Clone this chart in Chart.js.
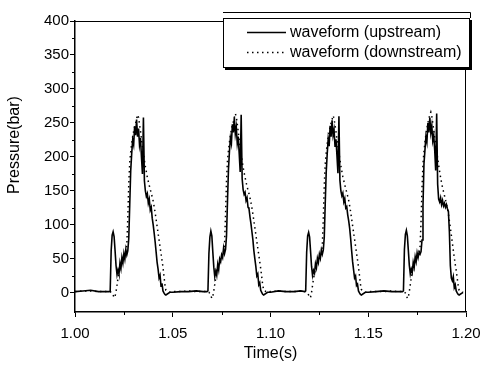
<!DOCTYPE html>
<html>
<head>
<meta charset="utf-8">
<title>Pressure waveform</title>
<script src="https://cdn.jsdelivr.net/npm/chart.js@4.4.1/dist/chart.umd.min.js"></script>
<style>
  body { margin: 0; background: #fff; }
  #wrap { width: 482px; height: 368px; }
</style>
</head>
<body>
<div id="wrap"><canvas id="chart" width="482" height="368"></canvas></div>
<script>
"use strict";

// start time of each injection cycle (s)
const cycleStarts = [1.00, 1.05, 1.10, 1.15];

// sample times inside a cycle, counted from its start (s)
const offsets = [
  0, 0.004, 0.008, 0.012, 0.0155, 0.0175,
  0.018, 0.0185, 0.019, 0.0195, 0.020, 0.0205, 0.021, 0.0215, 0.022, 0.0225,
  0.023, 0.0235, 0.024, 0.0245, 0.025, 0.0255, 0.026, 0.0265, 0.027, 0.0275,
  0.028, 0.0285, 0.029, 0.0295, 0.030, 0.0305, 0.031, 0.0315, 0.032, 0.0325,
  0.033, 0.0335, 0.034, 0.0345, 0.035, 0.0355, 0.036, 0.0365, 0.037, 0.0375,
  0.038, 0.0385, 0.039, 0.0395, 0.040, 0.0405, 0.041, 0.0415, 0.042, 0.0425,
  0.043, 0.0435, 0.044, 0.0445, 0.045, 0.0455, 0.046, 0.0465,
  0.0485
];

// upstream pressure (bar), one array per cycle
const upstream1 = [
  2, 3, 4, 2, 2, 2,
  3, 62, 85, 90, 83, 62, 40, 27, 34, 28,
  44, 36, 52, 44, 58, 50, 64, 56, 62, 80,
  130, 180, 205, 225, 218, 245, 232, 255, 230, 242,
  218, 228, 200, 175, 258, 165, 150, 142, 146, 132,
  138, 122, 126, 110, 100, 88, 75, 60, 45, 35,
  22, 26, 10, 14, 3, 0, -2, -3,
  1
];
const upstream2 = [
  1, 2, 2, 3, 2, 2,
  3, 58, 82, 91, 84, 60, 38, 24, 32, 26,
  42, 34, 50, 46, 56, 52, 66, 58, 64, 84,
  135, 182, 208, 228, 220, 248, 236, 258, 234, 244,
  220, 230, 205, 178, 262, 168, 152, 145, 148, 136,
  140, 126, 124, 112, 102, 90, 78, 62, 50, 39,
  25, 28, 12, 15, 4, 1, -2, -3,
  1
];
const upstream3 = [
  1, 3, 2, 2, 3, 2,
  3, 60, 84, 89, 82, 61, 39, 26, 33, 29,
  43, 37, 51, 45, 57, 51, 63, 57, 63, 82,
  132, 178, 204, 226, 216, 246, 230, 254, 232, 240,
  216, 226, 202, 176, 260, 166, 150, 143, 147, 134,
  139, 125, 127, 115, 106, 95, 80, 62, 46, 34,
  22, 25, 11, 13, 3, 0, -2, -3,
  1
];
const upstream4 = [
  1, 2, 3, 2, 2, 2,
  3, 64, 86, 92, 84, 63, 41, 28, 35, 30,
  45, 38, 53, 46, 59, 52, 60, 57, 61, 78,
  128, 190, 210, 230, 222, 250, 236, 258, 236, 246,
  224, 232, 210, 180, 264, 160, 138, 134, 140, 130,
  136, 128, 132, 126, 130, 124, 120, 90, 40, 22,
  18, 24, 8, 12, 3, 0, -2, -3,
  1
];

// downstream pressure (bar), one array per cycle
const downstream1 = [
  2, 3, 3, 2, 2, 2,
  2, 1, 0, -3, -7, -5, 2, 12, 22, 30,
  36, 41, 45, 49, 52, 55, 58, 70, 110, 160,
  192, 208, 220, 230, 238, 245, 250, 256, 262, 258,
  248, 238, 226, 215, 205, 195, 186, 178, 170, 164,
  158, 152, 147, 141, 135, 127, 118, 108, 98, 88,
  78, 68, 58, 48, 38, 25, 12, 4,
  1
];
const downstream2 = [
  2, 2, 3, 2, 2, 2,
  2, 1, -1, -4, -8, -5, 3, 13, 22, 31,
  37, 42, 46, 50, 53, 56, 60, 72, 115, 165,
  195, 210, 222, 232, 240, 247, 252, 258, 264, 259,
  249, 237, 225, 214, 204, 194, 185, 177, 170, 163,
  157, 151, 146, 140, 133, 125, 116, 106, 96, 86,
  76, 66, 56, 46, 36, 24, 12, 4,
  1
];
const downstream3 = [
  2, 3, 2, 2, 3, 2,
  2, 1, 0, -3, -7, -6, 1, 11, 21, 29,
  35, 40, 44, 48, 51, 54, 58, 69, 108, 158,
  190, 206, 219, 229, 237, 244, 250, 255, 261, 257,
  247, 237, 226, 216, 206, 196, 187, 179, 171, 165,
  159, 153, 148, 142, 136, 128, 119, 109, 99, 89,
  79, 69, 59, 49, 38, 26, 13, 5,
  1
];
const downstream4 = [
  2, 2, 2, 3, 2, 2,
  2, 1, 0, -3, -8, -6, 2, 12, 23, 31,
  37, 42, 46, 50, 53, 56, 59, 68, 105, 155,
  190, 208, 222, 233, 242, 250, 256, 262, 266, 260,
  250, 240, 228, 218, 208, 198, 188, 179, 170, 162,
  155, 149, 143, 137, 131, 124, 116, 106, 96, 85,
  74, 63, 52, 42, 33, 22, 11, 4,
  1
];

const xTicks = [1.00, 1.05, 1.10, 1.15, 1.20];
const xMinorTicks = [1.025, 1.075, 1.125, 1.175];
const yTicks = [0, 50, 100, 150, 200, 250, 300, 350, 400];
const yMinorTicks = [25, 75, 125, 175, 225, 275, 325, 375];

const seriesNames = ["waveform (upstream)", "waveform (downstream)"];

const FONT = "'Liberation Sans', Arial, sans-serif";

const toPoints = cycles =>
  cycles.flatMap((vals, c) => vals.map((v, i) => ({ x: cycleStarts[c] + offsets[i], y: v })));

const upstreamPts = toPoints([upstream1, upstream2, upstream3, upstream4]);
const downstreamPts = toPoints([downstream1, downstream2, downstream3, downstream4]);

// keep the plot box fixed: axes do not ask for extra room for edge labels
const noEdgePadding = s => {
  s.paddingLeft = 0;
  s.paddingRight = 0;
  s.paddingTop = 0;
  s.paddingBottom = 0;
};

// frame, minor ticks, axis titles and the boxed legend
const extras = {
  id: "extras",
  afterDatasetsDraw(chart) {
    const { ctx, chartArea: a, scales: { x, y } } = chart;
    ctx.save();
    ctx.strokeStyle = "#000";
    ctx.lineWidth = 1;
    ctx.beginPath();
    ctx.moveTo(a.left, a.top + 0.5);
    ctx.lineTo(a.right, a.top + 0.5);
    ctx.moveTo(a.right - 0.5, a.top);
    ctx.lineTo(a.right - 0.5, a.bottom);
    yMinorTicks.forEach(v => {
      const py = Math.round(y.getPixelForValue(v)) + 0.5;
      ctx.moveTo(a.left - 3, py);
      ctx.lineTo(a.left, py);
    });
    xMinorTicks.forEach(v => {
      const px = Math.round(x.getPixelForValue(v)) + 0.5;
      ctx.moveTo(px, a.bottom);
      ctx.lineTo(px, a.bottom + 3);
    });
    ctx.stroke();
    ctx.restore();
  },
  afterDraw(chart) {
    const { ctx, chartArea: a } = chart;
    ctx.save();
    ctx.fillStyle = "#000";
    ctx.font = "16px " + FONT;
    ctx.textAlign = "center";
    ctx.textBaseline = "middle";
    ctx.fillText("Time(s)", (a.left + a.right) / 2, 354);
    ctx.translate(15, 145);
    ctx.rotate(-Math.PI / 2);
    ctx.fillText("Pressure(bar)", 0, 0);
    ctx.restore();

    // legend box with its shadow
    ctx.save();
    ctx.fillStyle = "#fff";
    ctx.fillRect(223, 18, 247, 50);
    ctx.strokeStyle = "#000";
    ctx.lineWidth = 1;
    ctx.strokeRect(223.5, 18.5, 246, 49);
    ctx.beginPath();
    ctx.moveTo(223, 12.5);
    ctx.lineTo(470.5, 12.5);
    ctx.lineTo(470.5, 18);
    ctx.stroke();
    ctx.fillStyle = "#000";
    ctx.fillRect(225, 68, 247, 2);
    ctx.fillRect(470, 20, 2, 50);

    const ds = chart.data.datasets;
    [32, 52].forEach((ly, i) => {
      ctx.beginPath();
      ctx.lineWidth = ds[i].borderWidth;
      ctx.setLineDash(ds[i].borderDash || []);
      ctx.moveTo(247, ly + 0.5);
      ctx.lineTo(286, ly + 0.5);
      ctx.stroke();
      ctx.setLineDash([]);
      ctx.font = "16px " + FONT;
      ctx.textAlign = "left";
      ctx.textBaseline = "middle";
      ctx.fillText(ds[i].label, 290, ly + 1);
    });
    ctx.restore();
  }
};

new Chart(document.getElementById("chart"), {
  type: "line",
  data: {
    datasets: [
      {
        label: seriesNames[0],
        data: upstreamPts,
        borderColor: "#000",
        borderWidth: 1.6,
        pointRadius: 0,
        tension: 0
      },
      {
        label: seriesNames[1],
        data: downstreamPts,
        borderColor: "#000",
        borderWidth: 1.5,
        borderDash: [1.5, 3.5],
        pointRadius: 0,
        tension: 0
      }
    ]
  },
  options: {
    responsive: false,
    animation: false,
    layout: { padding: { left: 0, top: 21, right: 16, bottom: 0 } },
    plugins: {
      legend: { display: false },
      tooltip: { enabled: false }
    },
    scales: {
      x: {
        type: "linear",
        min: 1.0,
        max: 1.2,
        afterFit: s => { s.height = 56; noEdgePadding(s); },
        afterBuildTicks: s => { s.ticks = xTicks.map(v => ({ value: v })); },
        grid: { drawOnChartArea: false, drawTicks: true, tickLength: 5, color: "#000", lineWidth: 1 },
        border: { display: true, color: "#000", width: 1.5 },
        ticks: {
          color: "#000",
          font: { family: FONT, size: 15 },
          padding: 8,
          maxRotation: 0,
          callback: v => Number(v).toFixed(2)
        }
      },
      y: {
        min: -28,
        max: 400,
        afterFit: s => { s.width = 75; noEdgePadding(s); },
        afterBuildTicks: s => { s.ticks = yTicks.map(v => ({ value: v })); },
        grid: { drawOnChartArea: false, drawTicks: true, tickLength: 5, color: "#000", lineWidth: 1 },
        border: { display: true, color: "#000", width: 1.5 },
        ticks: {
          color: "#000",
          font: { family: FONT, size: 15 },
          padding: 1,
          callback: v => String(v)
        }
      }
    }
  },
  plugins: [extras]
});
</script>
</body>
</html>
